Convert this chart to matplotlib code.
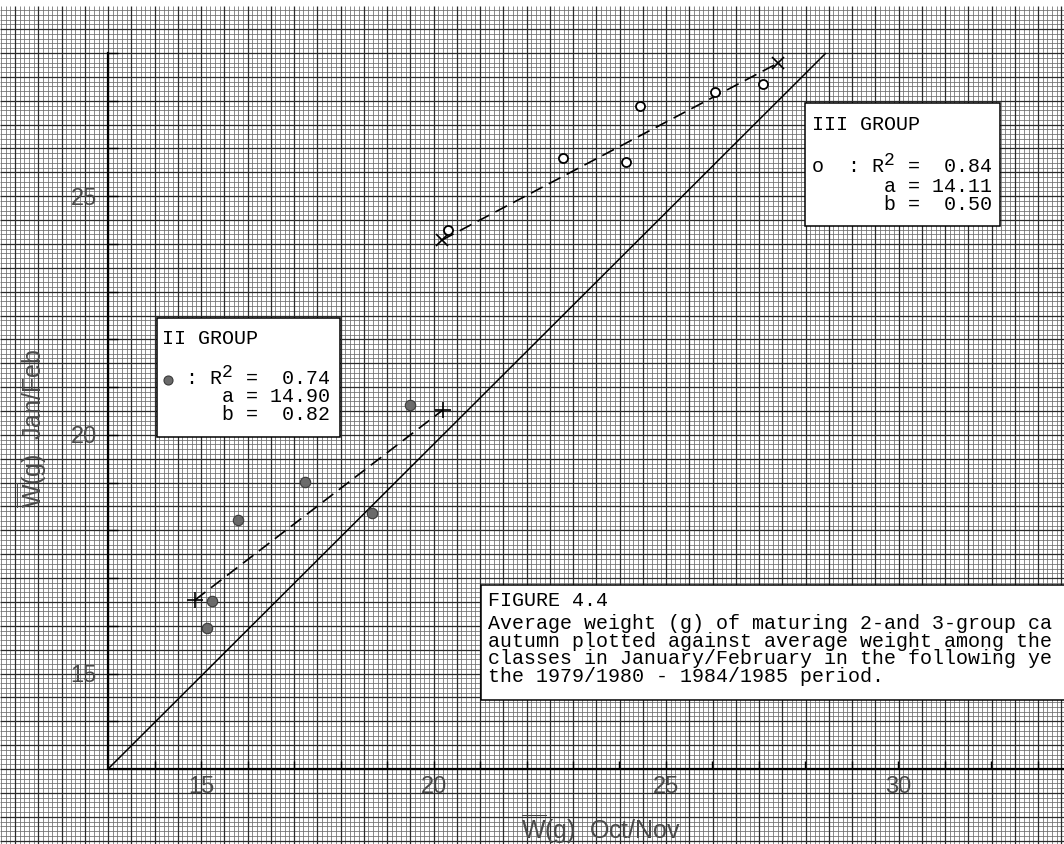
import numpy as np
import matplotlib
matplotlib.use("Agg")
import matplotlib.pyplot as plt
from matplotlib.patches import Rectangle
from matplotlib.lines import Line2D

# ---------------- data ----------------
group2_x = [15.24, 15.13, 15.80, 17.24, 18.68, 19.49]
group2_y = [16.52, 15.95, 18.22, 19.01, 18.36, 20.63]
group3_x = [20.31, 22.78, 24.14, 24.44, 26.05, 27.09]
group3_y = [24.29, 25.80, 25.72, 26.89, 27.18, 27.35]
fit2_x = [14.87, 20.20]
fit2_y = [16.54, 20.52]
fit3_x = [20.18, 27.41]
fit3_y = [24.08, 27.79]
diag_x = [13.0, 28.44]
diag_y = [13.0, 28.0]

x_ticks = list(range(14, 34))
y_ticks = list(range(14, 29))
x_tick_labels = ["15", "20", "25", "30"]
y_tick_labels = ["15", "20", "25"]

group_names = ["II GROUP", "III GROUP"]
r2_values = [0.74, 0.84]
a_values = [14.90, 14.11]
b_values = [0.82, 0.50]

caption_lines = [
    "FIGURE 4.4",
    "Average weight (g) of maturing 2-and 3-group ca",
    "autumn plotted against average weight among the",
    "classes in January/February in the following ye",
    "the 1979/1980 - 1984/1985 period.",
]
x_label = r"$\overline{\mathrm{W}}$(g)  Oct/Nov"
y_label = r"$\overline{\mathrm{W}}$(g)  Jan/Feb"

# ---------------- style / layout ----------------
plt.rcParams["font.family"] = ["Liberation Sans", "DejaVu Sans"]
plt.rcParams["mathtext.fontset"] = "custom"
plt.rcParams["mathtext.rm"] = "Liberation Sans"
plt.rcParams["lines.scale_dashes"] = False

W, H = 1064, 844
fig = plt.figure(figsize=(W / 100, H / 100), dpi=100)
fig.patch.set_facecolor("white")


def fx(px):
    return px / W


def fy(py):
    return 1 - py / H


x0_px, y0_px, ytop_px = 108, 769, 53
xs = 46.5                      # px per unit, x
ys = (y0_px - ytop_px) / 15.0  # px per unit, y
xmin, ymin, ymax = 13.0, 13.0, 28.0
xmax = xmin + (W - x0_px) / xs

# background graph paper, aligned with the data axes
bg = fig.add_axes([0, 0, 1, 1], zorder=-2)
bg.set_xlim(xmin - x0_px / xs, xmax)
bg.set_ylim(ymin - (H - y0_px) / ys, ymax + ytop_px / ys)
bg.axis("off")
grid_top = ymax + (ytop_px - 6) / ys
gx0, gx1 = bg.get_xlim()
gy0, gy1 = bg.get_ylim()
kx = np.arange(int(np.ceil(gx0 * 10)), int(np.floor(gx1 * 10)) + 1)
ky = np.arange(int(np.ceil(gy0 * 10)), int(np.floor(grid_top * 10)) + 1)
minor_c, major_c = "#6c6c6c", "#2a2a2a"
bg.vlines(kx[kx % 5 != 0] / 10, gy0, grid_top, colors=minor_c, lw=0.55)
bg.hlines(ky[ky % 5 != 0] / 10, gx0, gx1, colors=minor_c, lw=0.55)
bg.vlines(kx[kx % 5 == 0] / 10, gy0, grid_top, colors=major_c, lw=0.9)
bg.hlines(ky[ky % 5 == 0] / 10, gx0, gx1, colors=major_c, lw=0.9)

# main axes
ax = fig.add_axes([fx(x0_px), fy(y0_px), (W - x0_px) / W, (y0_px - ytop_px) / H])
ax.set_facecolor("none")
ax.set_xlim(xmin, xmax)
ax.set_ylim(ymin, ymax)
for s in ("top", "right"):
    ax.spines[s].set_visible(False)
for s in ("left", "bottom"):
    ax.spines[s].set_linewidth(1.6)
    ax.spines[s].set_color("black")

ax.set_xticks(x_ticks)
ax.set_xticklabels([t if str(t) in x_tick_labels else "" for t in x_ticks])
ax.set_yticks(y_ticks)
ax.set_yticklabels([t if str(t) in y_tick_labels else "" for t in y_ticks])
ax.tick_params(axis="x", direction="in", length=6, width=1.0, pad=5,
               labelsize=17, labelcolor="#4a4a4a")
ax.tick_params(axis="y", direction="in", length=7, width=1.0, pad=8,
               labelsize=17, labelcolor="#4a4a4a")

# lines
ax.plot(diag_x, diag_y, color="black", lw=1.1, solid_capstyle="butt", clip_on=False)
ax.plot(fit2_x, fit2_y, color="black", lw=1.2, dashes=(9.5, 5), clip_on=False)
ax.plot(fit3_x, fit3_y, color="black", lw=1.2, dashes=(9.5, 5), clip_on=False)

# end-point crosses
ax.plot(fit2_x, fit2_y, linestyle="none", marker="+", ms=12, mew=1.2,
        color="black", clip_on=False)
ax.plot(fit3_x, fit3_y, linestyle="none", marker="x", ms=8, mew=1.2,
        color="black", clip_on=False)

# points
ax.plot(group2_x, group2_y, linestyle="none", marker="o", ms=7.5, mfc="#6a6a6a",
        mec="#3a3a3a", mew=0.8, clip_on=False)
ax.plot(group3_x, group3_y, linestyle="none", marker="o", ms=6.5, mfc="white",
        mec="black", mew=1.3, clip_on=False)

# axis labels
fig.text(fx(601), fy(829), x_label, ha="center", va="center", fontsize=18,
         color="#4a4a4a")
fig.text(fx(32), fy(428), y_label, ha="center", va="center", fontsize=18,
         color="#4a4a4a", rotation=90)

# ---------------- text boxes ----------------
mono = "Liberation Mono"
fs_mono = 14.4
char_px = fs_mono * 100 / 72 * 0.6


def box(x1, y1, x2, y2):
    fig.add_artist(Rectangle((fx(x1), fy(y2)), (x2 - x1) / W, (y2 - y1) / H,
                             transform=fig.transFigure, facecolor="white",
                             edgecolor="black", lw=1.1, zorder=5))


def mtext(xp, yp, s, size=fs_mono):
    fig.text(fx(xp), fy(yp), s, ha="left", va="baseline", fontsize=size,
             family=mono, color="black", zorder=6)


def stat_block(tx, yb, name, mark, r2, a, b, lead):
    # lead = column of the "R"
    mtext(tx, yb[0], name)
    mtext(tx, yb[1], (mark + " " * (lead - 2 - len(mark))).ljust(lead - 2) + ": R")
    mtext(tx + (lead + 1) * char_px, yb[1] - 7, "2", size=13)
    mtext(tx + (lead + 3) * char_px, yb[1], "= %5.2f" % r2)
    mtext(tx + (lead + 1) * char_px, yb[2], "a = %5.2f" % a)
    mtext(tx + (lead + 1) * char_px, yb[3], "b = %5.2f" % b)


# II group box
box(157, 318, 340, 437)
stat_block(162, [344, 384, 402, 420], group_names[0], "", r2_values[0],
           a_values[0], b_values[0], lead=4)
fig.add_artist(Line2D([fx(162 + 0.5 * char_px)], [fy(380)], marker="o", ms=6.5,
                      mfc="#6a6a6a", mec="#3a3a3a", mew=0.8, linestyle="none",
                      transform=fig.transFigure, zorder=7))

# III group box
box(805, 103, 1000, 226)
stat_block(812, [130, 172, 192, 210], group_names[1], "o", r2_values[1],
           a_values[1], b_values[1], lead=5)

# caption box
box(481, 585, 1080, 700)
for line, yb in zip(caption_lines, [606, 629, 647, 664, 682]):
    mtext(488, yb, line)

fig.savefig("out.png", dpi=100, facecolor="white")
